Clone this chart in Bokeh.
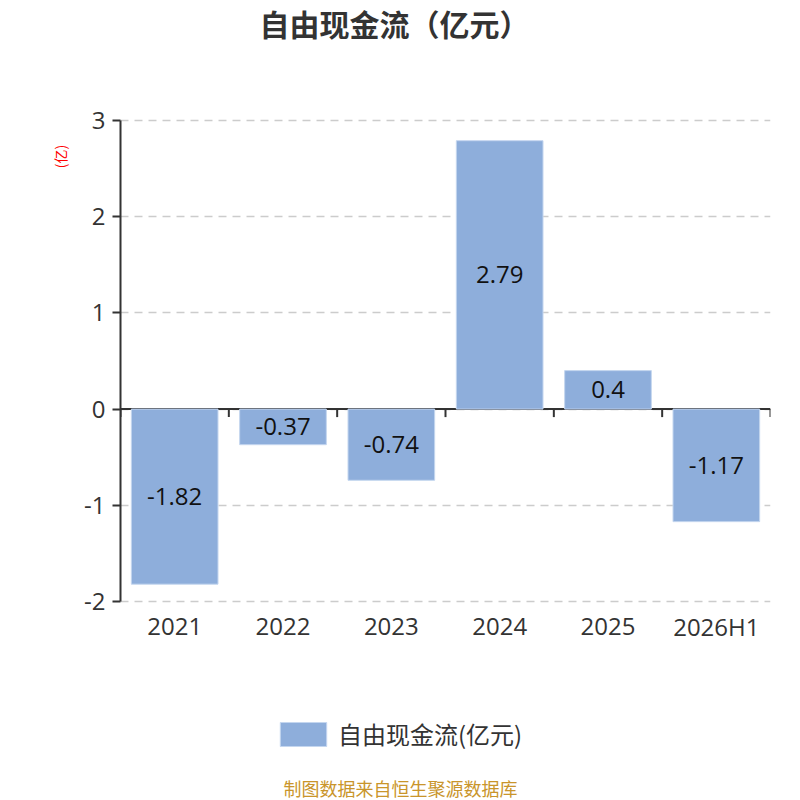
from bokeh.plotting import figure
from bokeh.models import (Range1d, FixedTicker, LinearAxis, Legend, LegendItem,
                          Label, ColumnDataSource)
from bokeh.core.properties import value
from bokeh.embed import file_html
from bokeh.resources import INLINE

categories = ["2021", "2022", "2023", "2024", "2025", "2026H1"]
values = [-1.82, -0.37, -0.74, 2.79, 0.4, -1.17]
value_labels = ["-1.82", "-0.37", "-0.74", "2.79", "0.4", "-1.17"]
y_ticks = [-2, -1, 0, 1, 2, 3]
y_tick_labels = ["-2", "-1", "0", "1", "2", "3"]
series_name = "自由现金流(亿元)"
title_text = "自由现金流（亿元）"
unit_text = "(亿)"
source_text = "制图数据来自恒生聚源数据库"

FONT = "Noto Sans CJK SC"
NUM_FONT = "Open Sans"
n = len(categories)
xs = list(range(n))
ymin, ymax = min(y_ticks), max(y_ticks)

# layout: value axis spans 120px..601px of an 800px tall frame
PX = 481 / (ymax - ymin)
y_lo = ymin - 199 / PX
y_hi = ymax + 120 / PX
UNIT_POS = 2.625  # where the unit label sits along the value axis

src = ColumnDataSource(dict(
    x=xs, top=values, mid=[v / 2 for v in values], lab=value_labels))

p = figure(width=800, height=800, output_backend="svg", toolbar_location=None,
           x_range=Range1d(-0.5, n - 0.5), y_range=Range1d(y_lo, y_hi),
           x_axis_location=None, y_axis_location=None,
           min_border_left=120, min_border_right=30, min_border_top=0,
           min_border_bottom=0)
p.outline_line_color = None
p.background_fill_color = "white"
p.border_fill_color = "white"

# y axis
yax = LinearAxis(ticker=FixedTicker(ticks=y_ticks), bounds=(ymin, ymax),
                 major_label_overrides=dict(zip(y_ticks, y_tick_labels)))
yax.axis_line_color = "#333333"
yax.axis_line_width = 2
yax.major_tick_line_color = "#333333"
yax.major_tick_line_width = 2
yax.major_tick_in = 0
yax.major_tick_out = 8
yax.minor_tick_line_color = None
yax.major_label_text_font = NUM_FONT
yax.major_label_text_font_size = "24px"
yax.major_label_text_color = "#333333"
yax.major_label_standoff = 7
p.add_layout(yax, "left")

# unit label: an extra left axis whose single tick label is the unit text
uax = LinearAxis(ticker=FixedTicker(ticks=[UNIT_POS]),
                 major_label_overrides={UNIT_POS: unit_text})
uax.axis_line_color = None
uax.major_tick_line_color = None
uax.minor_tick_line_color = None
uax.major_tick_in = 0
uax.major_tick_out = 0
uax.major_label_orientation = "parallel"
uax.major_label_text_font = FONT
uax.major_label_text_font_size = "14px"
uax.major_label_text_color = "red"
uax.major_label_standoff = 11
p.add_layout(uax, "left")

p.ygrid.ticker = FixedTicker(ticks=y_ticks)
p.ygrid.grid_line_color = "#cccccc"
p.ygrid.grid_line_dash = "8 6"
p.ygrid.grid_line_width = 1.5
p.xgrid.visible = False

# zero line with ticks at category boundaries (drawn under bars)
p.ray(x=[-0.5], y=[0], length=n, angle=0, line_color="#333333", line_width=2)
bnd = [i - 0.5 for i in range(n + 1)]
p.segment(x0=bnd, y0=[0] * len(bnd), x1=bnd, y1=[-8 / PX] * len(bnd),
          line_color="#333333", line_width=2)

bars = p.vbar(x="x", top="top", bottom=0, width=0.8, source=src,
              fill_color="#8eaedb", line_color="#c4d6ef", line_width=1)

p.text(x="x", y="mid", text="lab", source=src, text_align="center",
       text_baseline="middle", text_font=value(NUM_FONT), text_font_size="24px",
       text_color="#111111")

# category labels under the value axis
p.text(x=xs, y=[ymin] * n, text=categories, y_offset=25, text_align="center",
       text_baseline="middle", text_font=value(NUM_FONT), text_font_size="24px",
       text_color="#333333")

# title
p.add_layout(Label(x=-0.5, x_offset=274, y=y_hi, y_offset=-22, text=title_text,
                   text_align="center", text_baseline="middle", text_font=FONT,
                   text_font_size="30px", text_font_style="bold",
                   text_color="#333333"))

legend = Legend(items=[LegendItem(label=series_name, renderers=[bars])],
                location=(154, 49), orientation="horizontal",
                label_text_font=FONT, label_text_font_size="24px",
                label_text_color="#333333", glyph_width=58, glyph_height=30,
                label_standoff=6, border_line_color=None,
                background_fill_alpha=0, margin=0, padding=0)
p.add_layout(legend)

p.add_layout(Label(x=-0.5, x_offset=280, y=y_lo, y_offset=13, text=source_text,
                   text_align="center", text_baseline="middle", text_font=FONT,
                   text_font_size="18px", text_color="#c9952b"))

open("out.html", "w").write(file_html(p, INLINE))
